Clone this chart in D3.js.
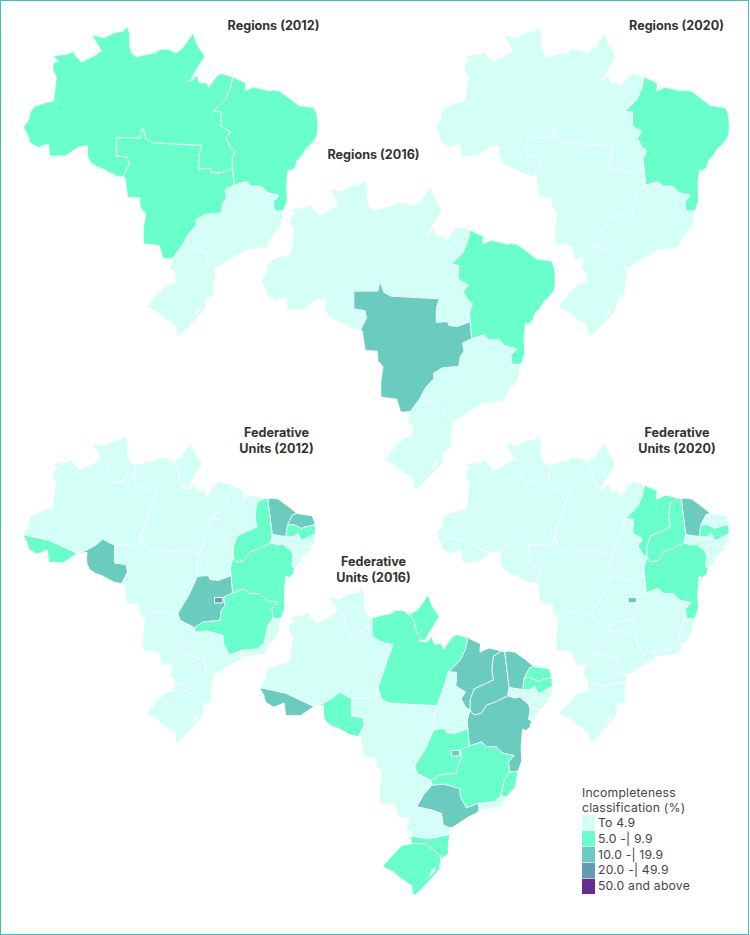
<!DOCTYPE html>
<html>
<head>
<meta charset="utf-8">
<script src="https://cdn.jsdelivr.net/npm/d3@7"></script>
<style>
  body { margin: 0; background: #fff; }
  text { font-family: Inter, "Open Sans", sans-serif; }
</style>
</head>
<body>
<svg width="750" height="935"></svg>
<script>
// legend classes
const classLabels = ["To 4.9", "5.0 -| 9.9", "10.0 -| 19.9", "20.0 -| 49.9", "50.0 and above"];
const classColors = ["#d4fff6", "#69ffcb", "#69ccbe", "#6699b3", "#662d91"];

// class index per region
const regionNames = ["N", "NE", "CO", "SE", "S"];
const regions2012 = [1, 1, 1, 0, 0];
const regions2016 = [0, 1, 2, 0, 0];
const regions2020 = [0, 1, 0, 0, 0];

// class index per federative unit
const ufNames =  ["AC","AM","RR","RO","PA","AP","TO","MA","PI","CE","RN","PB","PE","AL","SE","BA","MG","ES","RJ","SP","PR","SC","RS","MS","MT","GO","DF"];
const ufRegion = ["N", "N", "N", "N", "N", "N", "N", "NE","NE","NE","NE","NE","NE","NE","NE","NE","SE","SE","SE","SE","S", "S", "S", "CO","CO","CO","CO"];
const uf2012 =   [1,   0,   0,   2,   0,   0,   0,   0,   1,   2,   2,   1,   0,   0,   0,   1,   1,   0,   0,   0,   0,   0,   0,   0,   0,   2,   3];
const uf2016 =   [2,   0,   0,   1,   1,   1,   0,   2,   2,   2,   1,   1,   0,   0,   0,   2,   1,   1,   0,   2,   0,   1,   1,   0,   0,   1,   2];
const uf2020 =   [0,   0,   0,   0,   0,   0,   0,   1,   1,   2,   0,   1,   0,   0,   0,   1,   0,   0,   0,   0,   0,   0,   0,   0,   0,   0,   2];

// junctions of the state borders, lon/lat
const nA = [-73.9, -8], nB = [-66.6, -10.5], nC = [-61.6, -9.4], nD = [-60.7, -14.45], nE = [-58.1, -8];
const nF = [-63.5, 2.15], nG = [-58.9, 0.05], nH = [-58.9, 1.25], nI = [-54.7, 2.25], nJ = [-52.3, -1.85];
const nK = [-46.1, -1.4], nL = [-48.7, -5.9], nM = [-50.2, -10.4], nN = [-50.6, -13.5], nO = [-46.1, -13.4];
const nP = [-53.2, -18.2], nQ = [-58.3, -18.4], nR = [-51, -20], nS = [-50.9, -20.6], nT = [-52.9, -23.25], nU = [-54, -24.6];
const nV = [-53.7, -26.8], nW = [-48.5, -26.6], nX = [-53.7, -27.7], nY = [-49.7, -29.5], nZ = [-48.5, -25.8];
const nAA = [-44.7, -22.85], nAB = [-44.6, -23.65], nAC = [-41.7, -21.9], nAD = [-41, -22.1], nAE = [-40.5, -18.9], nAF = [-39.4, -18.85], nAG = [-45.9, -15.6];
const nAH = [-41.6, -3.15], nAI = [-45.8, -11], nCEP = [-41.2, -3.3], nPPC = [-40.6, -8], nPEB = [-40.8, -9.1];
const nCRN = [-37.3, -5.2], nCRP = [-38.6, -6.75], nCPP = [-38.8, -8.25], nRNPB = [-34.9, -6.7], nPBPE = [-34.8, -7.85];
const nAJ = [-35.1, -9.5], nAK = [-36.4, -10.85], nALB = [-38, -10.2], nSAB = [-37.8, -10.9], nBAE = [-37.6, -12.4];

// border lines between junctions, lon/lat
const arcs = {
  ac_am: [nA, [-70.4, -8.75], nB],
  ac_out: [nB, [-68.4, -11.7], [-70.4, -11.7], [-70.6, -10.05], [-72, -10.6], [-73.1, -9.95], [-73.3, -9.05], nA],
  am_out: [nA, [-73.2, -7], [-73, -5.95], [-72.4, -5.3], [-71.1, -4.85], [-69.9, -4.6], [-69.5, -1.3], [-70, -0.4], [-69.9, 0.5], [-69.2, 0.7], [-69.9, 1.4], [-68.2, 1.6], [-67.3, 1.95], [-67, 1.3], [-66.2, 0.6], [-65.5, 0.95], [-64.2, 1.6], nF],
  rr_am: [nF, [-62.6, 1.7], [-62.4, -0.3], [-61.6, -1.4], [-61.6, -1], [-60.5, -1], [-60.1, -0.1], nG],
  rr_out: [nF, [-64, 2.95], [-64.7, 4.15], [-63.3, 3.8], [-61.8, 4.5], [-60.7, 4.7], [-60.2, 5.25], [-59.9, 4.5], [-59.9, 2.7], [-59.6, 1.75], nH],
  rr_pa: [nH, nG],
  pa_am: [nG, [-58.8, -1.2], [-57.8, -1.9], [-56.1, -2.3], nE],
  am_mt: [nE, [-58.4, -9.4], nC],
  am_ro: [nC, [-62.3, -9.1], [-63.2, -8.6], [-64, -9.3], [-65.3, -10.05], nB],
  ro_out: [nB, [-65.3, -10.35], [-65.4, -11.2], [-65.3, -11.9], [-65, -12.55], [-64.2, -13.1], [-63.3, -13.4], [-61.8, -14.2], nD],
  ro_mt: [nD, [-59.9, -12.9], [-60.1, -11.95], [-61.6, -11.75], nC],
  mt_out: [nD, [-60.4, -14.5], [-60, -17], [-58.4, -17.1], nQ],
  mt_pa: [nE, [-57.6, -9.55], [-56.7, -10.05], nM],
  mt_to: [nM, [-50.6, -11.7], nN],
  mt_go: [nN, [-51.8, -16], nP],
  mt_ms: [nP, [-53.8, -18.7], [-54.7, -18.05], [-56.3, -18.05], [-57.4, -18.7], nQ],
  ms_out: [nQ, [-57.6, -19.2], [-57.9, -20.9], [-57.9, -22.85], [-55.8, -23.1], [-55.3, -24.7], nU],
  ms_pr: [nU, nT],
  ms_sp: [nT, [-52, -21.75], nS],
  ms_mg: [nS, nR],
  ms_go: [nR, [-52.9, -19.1], nP],
  to_pa: [nM, [-49.8, -9.2], [-49.2, -7.65], nL],
  pa_ma: [nK, [-46.4, -2.85], [-47.1, -4.4], [-48.4, -5.65], nL],
  to_ma: [nL, [-47.6, -6], [-47.7, -7.8], [-46.4, -8.6], [-47, -9.5], [-46.4, -10.6], nAI],
  to_ba: [nAI, [-46.2, -12.3], nO],
  to_go: [nN, [-49.8, -13.4], [-49.1, -13.4], [-48.9, -13.9], [-47.8, -14], nO],
  go_ba: [nO, nAG],
  go_mg: [nAG, [-47.1, -16.15], [-46.9, -17.2], [-47.4, -17.85], [-47.6, -19.1], [-49.8, -19.3], nR],
  mg_sp: [nS, [-49.4, -20.45], [-47.2, -21], [-47.1, -22.05], [-46.3, -23.4], nAA],
  mg_rj: [nAA, [-42.5, -22.65], nAC],
  mg_es: [nAC, [-41.2, -19.8], nAE],
  mg_ba: [nAE, [-40.7, -17.7], [-39.9, -16.85], [-41.4, -16.55], [-42.3, -15.7], [-43.6, -15.7], [-44.3, -15.1], nAG],
  ba_es: [nAE, nAF],
  ba_coast: [nAF, [-38.9, -17.5], [-39, -15.85], [-38.8, -13.45], [-38.4, -13.65], [-37.8, -13.2], nBAE],
  ba_se: [nBAE, [-38, -12.2], nSAB],
  ba_al: [nSAB, nALB],
  ba_pe: [nALB, [-39.2, -9.25], [-39.8, -9.4], nPEB],
  ba_pi: [nPEB, [-42.3, -9.85], [-43.6, -10.3], [-44.3, -11.4], [-45.3, -11.6], nAI],
  ma_pi: [nAH, [-42.7, -3.85], [-42.9, -5.65], [-42.7, -7], [-45.3, -8.2], [-45.8, -9.65], nAI],
  ma_coast: [nK, [-44.4, -2.2], [-44.5, -3.3], [-43.3, -2.75], nAH],
  pi_coast: [nAH, nCEP],
  pi_ce: [nCEP, [-40.9, -5.65], nPPC],
  pi_pe: [nPPC, nPEB],
  ce_coast: [nCEP, [-40.7, -3.15], [-39.8, -3.3], [-38.5, -4.25], nCRN],
  ce_rn: [nCRN, [-37.9, -5.4], nCRP],
  ce_pb: [nCRP, nCPP],
  ce_pe: [nCPP, [-39.4, -8.2], nPPC],
  rn_coast: [nCRN, [-36.4, -5.35], [-35.3, -5.5], [-35, -6.2], nRNPB],
  rn_pb: [nRNPB, [-36.3, -7], [-36.7, -7.2], [-37.8, -6.65], nCRP],
  pb_coast: [nRNPB, nPBPE],
  pb_pe: [nPBPE, [-36.7, -8.85], [-37.2, -7.85], [-37.8, -8.3], nCPP],
  pe_coast: [nPBPE, [-34.9, -8.9], nAJ],
  pe_al: [nAJ, [-36.7, -9.65], [-37.4, -9.2], nALB],
  al_coast: [nAJ, [-35.8, -10.3], nAK],
  al_se: [nAK, nSAB],
  se_coast: [nAK, [-36.9, -11.7], nBAE],
  pa_n: [nH, [-57.6, 1.6], [-56.2, 1.9], [-55.8, 2.25], nI],
  ap_pa: [nI, [-53.4, 1.25], [-52.9, -0.75], nJ],
  ap_out: [nI, [-53.6, 1.8], [-52.7, 2.5], [-51.4, 4.35], [-50.9, 2.95], [-49.9, 1.4], [-50.9, -0.2], [-51.8, -1.75], [-52.6, -1.75], nJ],
  pa_coast: [nJ, [-51.6, -1.95], [-50.9, -1.2], [-50.6, -2.2], [-49.6, -2.2], [-49.3, -2.85], [-48.2, -1.3], [-47.6, -0.95], nK],
  es_coast: [nAF, [-39.8, -20.9], nAD],
  es_rj: [nAD, nAC],
  rj_coast: [nAD, [-41.6, -23.3], [-43.3, -23.5], nAB],
  rj_sp: [nAB, nAA],
  sp_coast: [nAB, [-44.8, -23.95], [-46.2, -24.6], [-48, -25.7], nZ],
  sp_pr: [nZ, [-49.4, -25.5], [-49.6, -24.1], [-50.7, -23.7], nT],
  pr_coast: [nZ, nW],
  pr_sc: [nW, [-51.2, -27.1], nV],
  pr_out: [nV, [-53.8, -26.2], [-54.4, -26], nU],
  sc_out: [nV, nX],
  sc_coast: [nW, [-48.7, -27.75], [-48.7, -28.95], nY],
  sc_rs: [nY, [-49.8, -29.1], [-51.8, -27.7], nX],
  rs_out: [nX, [-54.9, -27.9], [-56, -28.9], [-57.5, -30.4], [-56, -31], [-55.2, -31.65], [-53.6, -32.55], [-53.5, -33.6], [-53.1, -33.6], [-52.4, -33.05], [-51.1, -31.9], [-49.9, -30.75], nY],
  df: [[-48.3, -16.2], [-47.2, -16.2], [-47.2, -16.9], [-48.3, -16.9], [-48.3, -16.2]]
};

// rings of arcs, "-" means the arc is walked backwards
const ufRings = {
  AC: ["ac_am", "ac_out"],
  AM: ["am_out", "rr_am", "pa_am", "am_mt", "am_ro", "-ac_am"],
  RR: ["rr_out", "rr_pa", "-rr_am"],
  RO: ["ro_out", "ro_mt", "am_ro"],
  PA: ["pa_n", "ap_pa", "pa_coast", "pa_ma", "-to_pa", "-mt_pa", "-pa_am", "-rr_pa"],
  AP: ["ap_out", "-ap_pa"],
  TO: ["to_pa", "to_ma", "to_ba", "-to_go", "-mt_to"],
  MA: ["ma_coast", "ma_pi", "-to_ma", "-pa_ma"],
  PI: ["pi_coast", "pi_ce", "pi_pe", "ba_pi", "-ma_pi"],
  CE: ["ce_coast", "ce_rn", "ce_pb", "ce_pe", "-pi_ce"],
  RN: ["rn_coast", "rn_pb", "-ce_rn"],
  PB: ["pb_coast", "pb_pe", "-ce_pb", "-rn_pb"],
  PE: ["pe_coast", "pe_al", "ba_pe", "-pi_pe", "-ce_pe", "-pb_pe"],
  AL: ["al_coast", "al_se", "ba_al", "-pe_al"],
  SE: ["se_coast", "ba_se", "-al_se"],
  BA: ["ba_coast", "ba_se", "ba_al", "ba_pe", "ba_pi", "to_ba", "go_ba", "-mg_ba", "ba_es"],
  MG: ["mg_sp", "mg_rj", "mg_es", "mg_ba", "go_mg", "-ms_mg"],
  ES: ["ba_es", "es_coast", "es_rj", "mg_es"],
  RJ: ["rj_coast", "rj_sp", "mg_rj", "-es_rj"],
  SP: ["sp_coast", "sp_pr", "ms_sp", "mg_sp", "-rj_sp"],
  PR: ["pr_coast", "pr_sc", "pr_out", "ms_pr", "-sp_pr"],
  SC: ["sc_coast", "sc_rs", "-sc_out", "-pr_sc"],
  RS: ["rs_out", "sc_rs"],
  MS: ["ms_out", "ms_pr", "ms_sp", "ms_mg", "ms_go", "mt_ms"],
  MT: ["mt_pa", "mt_to", "mt_go", "mt_ms", "-mt_out", "ro_mt", "-am_mt"],
  GO: ["to_go", "go_ba", "go_mg", "ms_go", "-mt_go"],
  DF: ["df"]
};

const lagoa = [[-50.4, -30.45], [-50.9, -30.75], [-51.3, -31.5], [-52, -32], [-51.55, -31.8], [-50.9, -31.3], [-50.4, -30.75], [-50.4, -30.45]];

const svg = d3.select("svg");
const color = d3.scaleOrdinal().domain(d3.range(classLabels.length)).range(classColors);

svg.append("rect")
  .attr("x", 0.5).attr("y", 0.5)
  .attr("width", 748).attr("height", 934)
  .attr("fill", "none")
  .attr("stroke", "#3dbfc4");

// d3 takes the small side of a ring only if it winds the right way
function polygon(ring) {
  const g = { type: "Polygon", coordinates: [ring] };
  if (d3.geoArea(g) > 2 * Math.PI) g.coordinates = [ring.slice().reverse()];
  return g;
}

// stitch the arcs of one state into a closed polygon
function ufFeature(name) {
  let ring = [];
  ufRings[name].forEach(a => {
    const back = a[0] === "-";
    const pts = arcs[back ? a.slice(1) : a].slice();
    if (back) pts.reverse();
    ring = ring.concat(ring.length ? pts.slice(1) : pts);
  });
  return { type: "Feature", properties: { name }, geometry: polygon(ring) };
}

const features = ufNames.map(ufFeature);

// which states touch each arc
const owners = {};
ufNames.forEach(n => ufRings[n].forEach(a => {
  const k = a.replace("-", "");
  (owners[k] = owners[k] || []).push(n);
}));

function drawMap(opt) {
  const projection = d3.geoMercator()
    .scale(429.7)
    .translate([578.3 + opt.dx, 67 + opt.dy])
    .precision(0.1);
  const path = d3.geoPath(projection);
  const g = svg.append("g");

  const classOf = n => opt.byRegion
    ? opt.values[regionNames.indexOf(ufRegion[ufNames.indexOf(n)])]
    : opt.values[ufNames.indexOf(n)];

  g.selectAll("path.uf")
    .data(features)
    .enter()
    .append("path")
    .attr("class", "uf")
    .attr("d", path)
    .attr("fill", d => color(classOf(d.properties.name)))
    .attr("stroke", opt.byRegion ? (d => color(classOf(d.properties.name))) : "none")
    .attr("stroke-width", 0.6);

  g.append("path")
    .datum(polygon(lagoa))
    .attr("d", path)
    .attr("fill", "#fff");

  // white borders: every state line, or only those between two regions
  const lines = Object.keys(arcs).filter(a => {
    if (!opt.byRegion) return true;
    const o = owners[a];
    return o.length === 2 && ufRegion[ufNames.indexOf(o[0])] !== ufRegion[ufNames.indexOf(o[1])];
  });
  g.append("path")
    .datum({ type: "MultiLineString", coordinates: lines.map(a => arcs[a]) })
    .attr("d", path)
    .attr("fill", "none")
    .attr("stroke", "#fff")
    .attr("stroke-width", 1)
    .attr("stroke-linejoin", "round");

  const t = g.append("text")
    .attr("text-anchor", "middle")
    .attr("font-size", 12.6)
    .attr("font-weight", 700)
    .attr("fill", "#333");
  opt.title.forEach((s, i) => {
    t.append("tspan").attr("x", opt.tx).attr("y", opt.ty + i * 15.7).text(s);
  });
}

drawMap({ values: regions2012, byRegion: true, dx: 0, dy: 0, title: ["Regions (2012)"], tx: 273.5, ty: 30 });
drawMap({ values: regions2020, byRegion: true, dx: 411.5, dy: 0, title: ["Regions (2020)"], tx: 676.5, ty: 30 });
drawMap({ values: regions2016, byRegion: true, dx: 237.5, dy: 153.3, title: ["Regions (2016)"], tx: 373.5, ty: 159 });
drawMap({ values: uf2012, byRegion: false, dx: -1.5, dy: 407.3, title: ["Federative", "Units (2012)"], tx: 276.5, ty: 437 });
drawMap({ values: uf2020, byRegion: false, dx: 412, dy: 407.3, title: ["Federative", "Units (2020)"], tx: 677, ty: 437 });
drawMap({ values: uf2016, byRegion: false, dx: 235.3, dy: 560.3, title: ["Federative", "Units (2016)"], tx: 373.5, ty: 566 });

// legend
const legend = svg.append("g");
legend.selectAll("text.head")
  .data(["Incompleteness", "classification (%)"])
  .enter()
  .append("text")
  .attr("class", "head")
  .attr("x", 582)
  .attr("y", (d, i) => 797 + i * 15.3)
  .attr("font-size", 12.2)
  .attr("letter-spacing", 0.2)
  .attr("fill", "#444")
  .text(d => d);

const rowY = d3.scaleBand().domain(classLabels).range([815, 894]).paddingInner(0.04);

legend.selectAll("rect")
  .data(classLabels)
  .enter()
  .append("rect")
  .attr("x", 582)
  .attr("y", d => rowY(d))
  .attr("width", 13)
  .attr("height", rowY.bandwidth())
  .attr("fill", (d, i) => color(i));

legend.selectAll("text.row")
  .data(classLabels)
  .enter()
  .append("text")
  .attr("class", "row")
  .attr("x", 598)
  .attr("y", d => rowY(d) + rowY.bandwidth() / 2 + 4)
  .attr("font-size", 12.2)
  .attr("letter-spacing", 0.2)
  .attr("fill", "#444")
  .text(d => d);
</script>
</body>
</html>
